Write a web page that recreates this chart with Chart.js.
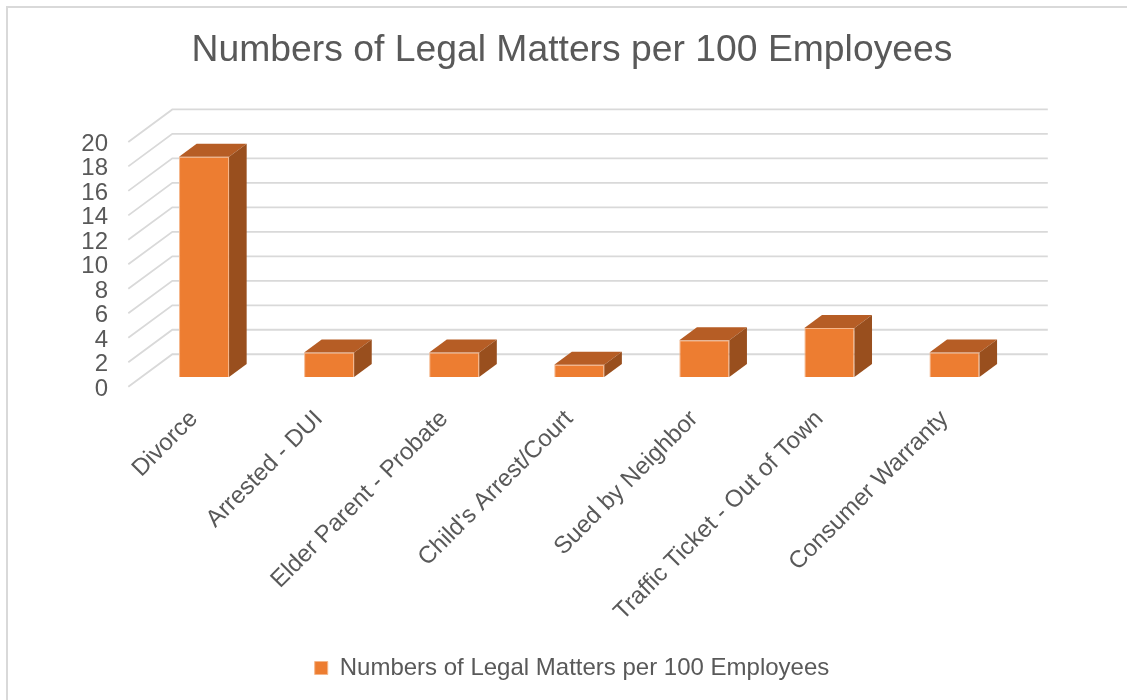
<!DOCTYPE html>
<html>
<head>
<meta charset="utf-8">
<title>Numbers of Legal Matters per 100 Employees</title>
<script src="https://cdn.jsdelivr.net/npm/chart.js@4.4.1/dist/chart.umd.min.js"></script>
<style>
  html, body { margin: 0; padding: 0; background: #ffffff; overflow: hidden; }
  #wrap { width: 1127px; height: 700px; position: relative; }
  canvas { display: block; }
</style>
</head>
<body>
<div id="wrap"><canvas id="chart" width="1127" height="700"></canvas></div>
<script>
// ---- data ----
const chartTitle = 'Numbers of Legal Matters per 100 Employees';
const seriesName = 'Numbers of Legal Matters per 100 Employees';
const categories = [
  'Divorce',
  'Arrested - DUI',
  'Elder Parent - Probate',
  "Child's Arrest/Court",
  'Sued by Neighbor',
  'Traffic Ticket - Out of Town',
  'Consumer Warranty'
];
const matters = [18, 2, 2, 1, 3, 4, 2];
const yTickValues = [0, 2, 4, 6, 8, 10, 12, 14, 16, 18, 20];

// ---- style ----
const FONT = '"Liberation Sans", Arial, Helvetica, sans-serif';
const TEXT = '#595959';
const GRID = '#D9D9D9';
const FRONT = '#ED7D31';
const TOP = '#B65D25';
const SIDE = '#994F1E';

// Oblique depth of the plot box: full floor depth, and where the bar
// fronts sit inside it (fractions of the depth).
const DEPTH_X_PER_CAT = 0.352;   // horizontal depth as a share of one category
const DEPTH_Y = -32.5;           // vertical depth in pixels
const FRONT_GAP = 0.3;           // floor front edge lies this far in front of bars
const BAR_DEPTH = 0.4;           // bar depth
const BACK_POS = 0.7;            // back wall lies this far behind bar fronts

function depthVector(chart) {
  const x = chart.scales.x;
  const cat = (x.right - x.left) / categories.length;
  return { dx: DEPTH_X_PER_CAT * cat, dy: DEPTH_Y };
}

// Outer frame of the chart object
const framePlugin = {
  id: 'frame',
  beforeDraw(chart) {
    const ctx = chart.ctx;
    ctx.save();
    ctx.strokeStyle = GRID;
    ctx.lineWidth = 2;
    ctx.beginPath();
    ctx.moveTo(7, chart.height);
    ctx.lineTo(7, 7);
    ctx.lineTo(chart.width, 7);
    ctx.stroke();
    ctx.restore();
  }
};

// Back wall gridlines and the left side-wall diagonals
const wallsPlugin = {
  id: 'walls',
  beforeDatasetsDraw(chart) {
    const ctx = chart.ctx;
    const ys = chart.scales.y;
    const area = chart.chartArea;
    const { dx, dy } = depthVector(chart);
    ctx.save();
    ctx.strokeStyle = GRID;
    ctx.lineWidth = 1.8;
    ys.ticks.forEach(t => {
      const py = ys.getPixelForValue(t.value);
      const bx0 = area.left + BACK_POS * dx;
      const bx1 = area.right + BACK_POS * dx;
      const by = py + BACK_POS * dy;
      const fx = area.left - FRONT_GAP * dx;
      const fy = py - FRONT_GAP * dy;
      ctx.beginPath();
      ctx.moveTo(fx, fy);
      ctx.lineTo(bx0, by);
      ctx.lineTo(bx1, by);
      ctx.stroke();
    });
    ctx.restore();
  }
};

// Top and side faces of each column
const columnFacesPlugin = {
  id: 'columnFaces',
  afterDatasetsDraw(chart) {
    const ctx = chart.ctx;
    const { dx, dy } = depthVector(chart);
    const ox = BAR_DEPTH * dx, oy = BAR_DEPTH * dy;
    const meta = chart.getDatasetMeta(0);
    ctx.save();
    meta.data.forEach(bar => {
      const p = bar.getProps(['x', 'y', 'base', 'width'], true);
      const l = p.x - p.width / 2, r = p.x + p.width / 2;
      const top = Math.min(p.y, p.base), base = Math.max(p.y, p.base);
      // top face
      ctx.fillStyle = TOP;
      ctx.beginPath();
      ctx.moveTo(l, top);
      ctx.lineTo(r, top);
      ctx.lineTo(r + ox, top + oy);
      ctx.lineTo(l + ox, top + oy);
      ctx.closePath();
      ctx.fill();
      // side face
      ctx.fillStyle = SIDE;
      ctx.beginPath();
      ctx.moveTo(r, top);
      ctx.lineTo(r + ox, top + oy);
      ctx.lineTo(r + ox, base + oy);
      ctx.lineTo(r, base);
      ctx.closePath();
      ctx.fill();
    });
    ctx.restore();
  }
};

Chart.defaults.font.family = FONT;
Chart.defaults.color = TEXT;

new Chart(document.getElementById('chart'), {
  type: 'bar',
  data: {
    labels: categories,
    datasets: [{
      label: seriesName,
      data: matters,
      backgroundColor: FRONT,
      borderColor: '#F5B68A',
      borderWidth: 1,
      barPercentage: 0.4,
      categoryPercentage: 1.0
    }]
  },
  options: {
    responsive: false,
    animation: false,
    devicePixelRatio: 1,
    layout: { padding: { top: 0, left: 17, right: 0, bottom: 10 } },
    plugins: {
      title: {
        display: true,
        text: chartTitle,
        color: TEXT,
        font: { family: FONT, size: 37.3, weight: 'normal' },
        padding: { top: 28, bottom: 59.4 }
      },
      legend: {
        display: true,
        position: 'bottom',
        labels: {
          boxWidth: 13,
          boxHeight: 13,
          color: TEXT,
          font: { family: FONT, size: 24 },
          padding: 10
        }
      },
      tooltip: { enabled: false }
    },
    scales: {
      x: {
        grid: { display: false },
        border: { display: false },
        ticks: {
          autoSkip: false,
          minRotation: 45,
          maxRotation: 45,
          color: TEXT,
          font: { family: FONT, size: 24 },
          padding: 20,
          labelOffset: -10
        },
        afterFit(s) { s.height = 269; }
      },
      y: {
        min: 0,
        max: 20,
        grid: { display: false },
        border: { display: false },
        afterBuildTicks(s) { s.ticks = yTickValues.map(v => ({ value: v })); },
        ticks: {
          autoSkip: false,
          color: TEXT,
          font: { family: FONT, size: 24 },
          padding: 25.5,
          labelOffset: 12
        },
        afterFit(s) { s.width = 124.5; }
      },
      yRight: {
        position: 'right',
        display: true,
        grid: { display: false },
        border: { display: false },
        ticks: { display: false },
        afterFit(s) { s.width = 110; }
      }
    }
  },
  plugins: [framePlugin, wallsPlugin, columnFacesPlugin]
});
</script>
</body>
</html>
